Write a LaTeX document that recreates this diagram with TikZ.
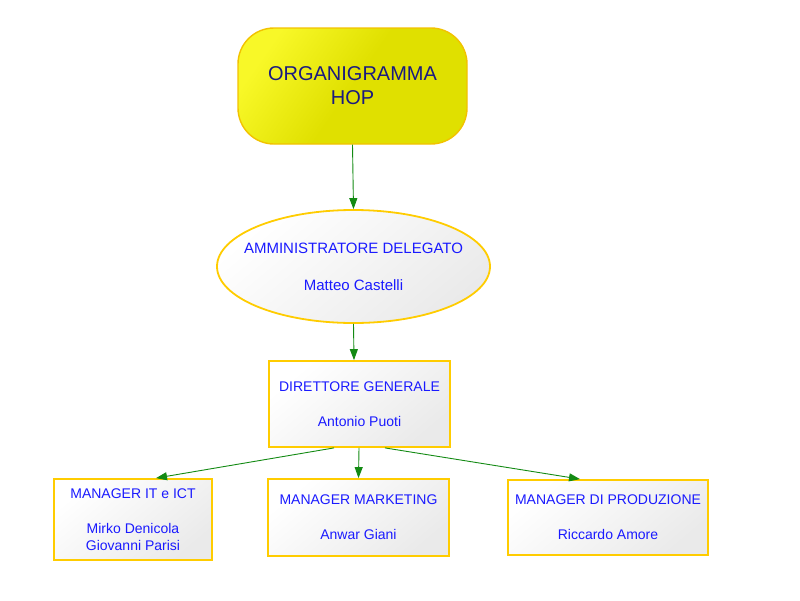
\documentclass[tikz,border=0pt]{standalone}
\usepackage{fontspec}
\setmainfont{Liberation Sans}
\usetikzlibrary{shapes.geometric,arrows.meta,calc}
\definecolor{bordo}{HTML}{FFCC00}
\definecolor{bordotop}{HTML}{F2C200}
\definecolor{testo}{HTML}{1A1AFF}
\definecolor{titolo}{HTML}{1A1A80}
\definecolor{freccia}{HTML}{138A13}
\definecolor{giallo}{HTML}{E0E000}
\definecolor{giallochiaro}{HTML}{F8F828}
\definecolor{grigio}{HTML}{EAEAEA}
\tikzset{
  x=1pt, y=-1pt,
  boxfill/.style={top color=white, bottom color=grigio, shading angle=40},
  rolebox/.style={draw=bordo, line width=1.8pt, boxfill, rectangle, inner sep=0pt,
    text=testo, align=center, font=\fontsize{14}{16.5}\selectfont},
  titlebox/.style={draw=bordotop, line width=1.4pt, rectangle, rounded corners=36pt,
    top color=giallochiaro, bottom color=giallo, middle color=giallo, shading angle=55,
    minimum width=229pt, minimum height=116pt, inner sep=0pt,
    text=titolo, align=center, font=\fontsize{20}{24}\selectfont},
  ellbox/.style={draw=bordo, line width=1.8pt, ellipse, boxfill,
    minimum width=273pt, minimum height=113pt, inner sep=0pt},
  lbltext/.style={text=testo, align=center, font=\fontsize{15}{17}\selectfont},
  conn/.style={draw=freccia, line width=0.9pt, -{Triangle[length=11pt,width=8pt]}}
}
\begin{document}
\begin{tikzpicture}
\useasboundingbox (0,0) rectangle (800,600);
\node[titlebox] (org) at (352.5,86) {ORGANIGRAMMA\\HOP};
\node[ellbox, label={[lbltext]center:AMMINISTRATORE DELEGATO\\[20pt]Matteo Castelli}] (ad) at (353.5,266.5) {};
\node[rolebox, minimum width=181pt, minimum height=86pt] (dg) at (359.5,404) {DIRETTORE GENERALE\\[18.5pt]Antonio Puoti};
\node[rolebox, minimum width=158pt, minimum height=81pt] (it) at (133,519.5) {MANAGER IT e ICT\\[18.5pt]Mirko Denicola\\Giovanni Parisi};
\node[rolebox, minimum width=181pt, minimum height=77pt] (mk) at (358.5,517.5) {MANAGER MARKETING\\[18.5pt]Anwar Giani};
\node[rolebox, minimum width=200pt, minimum height=75pt] (pr) at (608,517.5) {MANAGER DI PRODUZIONE\\[18.5pt]Riccardo Amore};
\draw[conn] (org.south) -- (ad.north);
\draw[conn] (ad.south) -- ($(dg.north)+(-5.5,0)$);
\draw[conn] ($(dg.south)+(-25.5,0)$) -- ($(it.north)+(23,0)$);
\draw[conn] ($(dg.south)+(-0.5,0)$) -- (mk.north);
\draw[conn] ($(dg.south)+(25.5,0)$) -- ($(pr.north)+(-28,0)$);
\end{tikzpicture}
\end{document}
